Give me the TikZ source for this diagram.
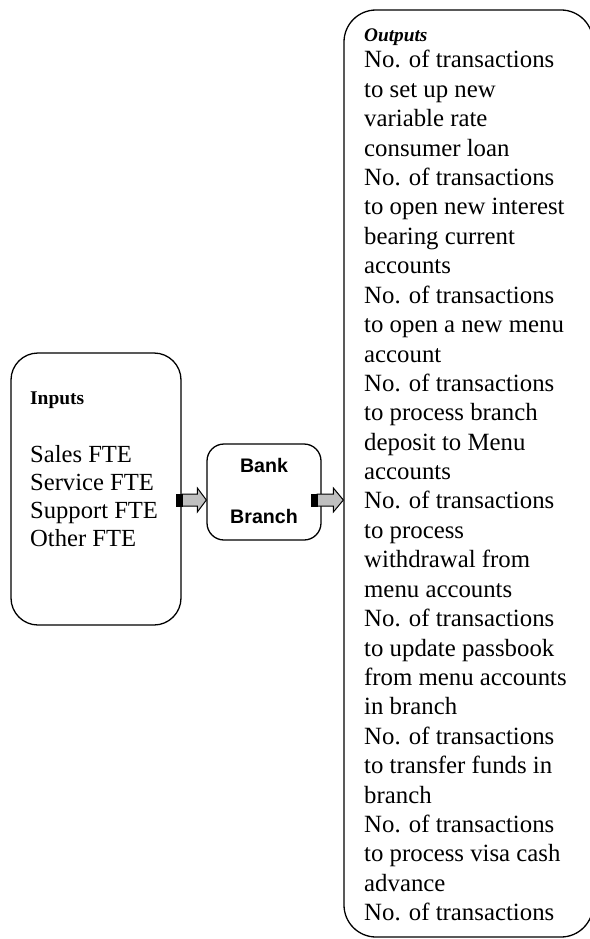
\documentclass[tikz,border=0pt]{standalone}
\usepackage{fontspec}
\setmainfont{Liberation Serif}
\newfontfamily\arialfont{Liberation Sans}
\usetikzlibrary{calc}
\definecolor{arrgray}{HTML}{C0C0C0}
% #1 start coordinate, #2 tip coordinate, #3 head length
\newcommand\blockarrow[3]{%
  \draw[arrline, fill=arrgray] ($(#1)+(6,-6)$) -- ($(#2)+(-#3,-6)$) -- ($(#2)+(-#3,-12)$) -- (#2)
     -- ($(#2)+(-#3,12)$) -- ($(#2)+(-#3,6)$) -- ($(#1)+(6,6)$) -- cycle;
  \draw[arrline, fill=black] ($(#1)+(0,-6)$) rectangle ($(#1)+(6,6)$);
}
\begin{document}
\begin{tikzpicture}[x=1pt,y=-1pt,
  box/.style={draw, line width=1.3pt, inner sep=0pt},
  arrline/.style={draw, line width=1pt, line join=miter},
  txt/.style={anchor=base west, inner sep=0pt, align=left},
  banktxt/.style={anchor=base, inner sep=0pt, font=\arialfont\bfseries\fontsize{19.6}{22}\selectfont}]
\useasboundingbox (0,0) rectangle (589,939);
% boxes
\node[box, rounded corners=27pt, minimum width=170pt, minimum height=272pt] (inp) at (96,489) {};
\node[box, rounded corners=17pt, minimum width=114pt, minimum height=96pt] (bank) at (264,492) {};
\node[box, rounded corners=32pt, minimum width=249pt, minimum height=927pt] (out) at (468.5,473.5) {};
% inputs text
\node[txt, font=\fontsize{19.4}{22}\selectfont\bfseries] (inptitle) at (30,404) {Inputs};
\node[txt] (inplist) at (30,462) {\parbox[t]{150pt}{\raggedright\fontsize{24.6}{28}\selectfont
Sales FTE\\Service FTE\\Support FTE\\Other FTE}};
% bank text
\node[banktxt] (banktop) at (264,472) {Bank};
\node[banktxt] (bankbot) at (264,523) {Branch};
% outputs text
\node[txt, font=\fontsize{19.3}{22}\selectfont\bfseries\itshape] (outtitle) at (364,42) {Outputs};
\node[txt] (outlist) at (364,68) {\parbox[t]{240pt}{\raggedright\fontsize{24.8}{29.4}\selectfont
No. of transactions\\to set up new\\variable rate\\consumer loan\\
No. of transactions\\to open new interest\\bearing current\\accounts\\
No. of transactions\\to open a new menu\\account\\
No. of transactions\\to process branch\\deposit to Menu\\accounts\\
No. of transactions\\to process\\withdrawal from\\menu accounts\\
No. of transactions\\to update passbook\\from menu accounts\\in branch\\
No. of transactions\\to transfer funds in\\branch\\
No. of transactions\\to process visa cash\\advance\\
No. of transactions}};
% arrows
\coordinate (arrowrow) at (0,500);
\coordinate (a1s) at ($(inp.east |- arrowrow)+(-5.6,0)$);
\coordinate (a1e) at (bank.west |- arrowrow);
\coordinate (a2s) at ($(bank.east |- arrowrow)+(-10.6,0)$);
\coordinate (a2e) at (out.west |- arrowrow);
\blockarrow{a1s}{a1e}{9}
\blockarrow{a2s}{a2e}{10}
\end{tikzpicture}
\end{document}
